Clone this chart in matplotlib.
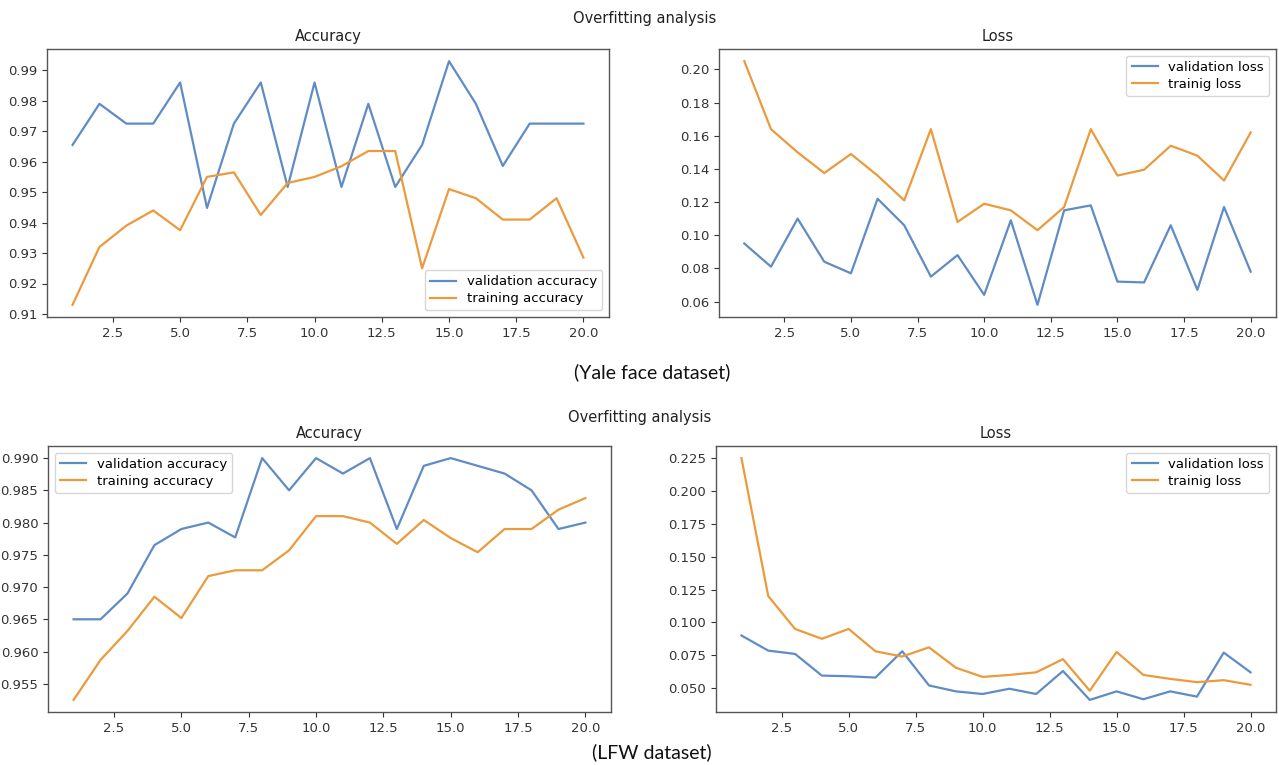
import matplotlib
matplotlib.use("Agg")
import matplotlib.pyplot as plt

epochs = list(range(1, 21))

yale_val_acc = [0.9655, 0.979, 0.9725, 0.9725, 0.986, 0.9448, 0.9725, 0.986, 0.9517, 0.986,
                0.9517, 0.979, 0.9517, 0.9655, 0.993, 0.979, 0.9586, 0.9725, 0.9725, 0.9725]
yale_train_acc = [0.913, 0.932, 0.939, 0.944, 0.9375, 0.955, 0.9565, 0.9425, 0.953, 0.955,
                  0.9585, 0.9635, 0.9635, 0.925, 0.951, 0.948, 0.941, 0.941, 0.948, 0.9285]
yale_val_loss = [0.095, 0.081, 0.110, 0.084, 0.077, 0.122, 0.106, 0.075, 0.088, 0.064,
                 0.109, 0.058, 0.115, 0.118, 0.072, 0.0715, 0.106, 0.067, 0.117, 0.078]
yale_train_loss = [0.205, 0.164, 0.150, 0.1375, 0.149, 0.136, 0.121, 0.164, 0.108, 0.119,
                   0.115, 0.103, 0.117, 0.164, 0.136, 0.1395, 0.154, 0.148, 0.133, 0.162]

lfw_val_acc = [0.965, 0.965, 0.969, 0.9765, 0.979, 0.980, 0.9777, 0.990, 0.985, 0.990,
               0.9876, 0.990, 0.979, 0.9888, 0.990, 0.9888, 0.9876, 0.985, 0.979, 0.980]
lfw_train_acc = [0.9525, 0.9587, 0.9632, 0.9685, 0.9652, 0.9717, 0.9726, 0.9726, 0.9757, 0.981,
                 0.981, 0.980, 0.9767, 0.9804, 0.9776, 0.9754, 0.979, 0.979, 0.982, 0.9838]
lfw_val_loss = [0.090, 0.0785, 0.076, 0.0595, 0.059, 0.058, 0.078, 0.052, 0.0475, 0.0455,
                0.0495, 0.0455, 0.063, 0.041, 0.0475, 0.0415, 0.0475, 0.0435, 0.077, 0.062]
lfw_train_loss = [0.225, 0.120, 0.095, 0.0875, 0.095, 0.078, 0.074, 0.081, 0.0655, 0.0585,
                  0.060, 0.062, 0.072, 0.048, 0.0775, 0.060, 0.057, 0.0545, 0.056, 0.0525]

BLUE = "#5f8cc4"
ORANGE = "#eb9a3c"
W, H = 1279, 765

fig = plt.figure(figsize=(W / 100, H / 100), dpi=100)


def add_ax(left, top, right, bottom):
    return fig.add_axes([left / W, 1 - bottom / H, (right - left) / W, (bottom - top) / H])


def style(ax, title):
    ax.set_title(title, fontsize=10.5, color="#222222", pad=5.5)
    ax.tick_params(labelsize=9.5, colors="#333333", length=3.5)
    for s in ax.spines.values():
        s.set_color("#555555")
        s.set_linewidth(1.0)


panels = [
    ((47, 49, 609, 317), "Accuracy", yale_val_acc, yale_train_acc,
     "validation accuracy", "training accuracy", "lower right"),
    ((719, 49, 1276, 317), "Loss", yale_val_loss, yale_train_loss,
     "validation loss", "trainig loss", "upper right"),
    ((48, 446, 611, 712), "Accuracy", lfw_val_acc, lfw_train_acc,
     "validation accuracy", "training accuracy", "upper left"),
    ((716, 446, 1276, 712), "Loss", lfw_val_loss, lfw_train_loss,
     "validation loss", "trainig loss", "upper right"),
]

for box, title, v, t, lv, lt, loc in panels:
    ax = add_ax(*box)
    ax.plot(epochs, v, color=BLUE, lw=1.6, label=lv)
    ax.plot(epochs, t, color=ORANGE, lw=1.6, label=lt)
    style(ax, title)
    ax.legend(loc=loc, fontsize=9.5, frameon=True, handlelength=2.0,
              borderpad=0.4, labelspacing=0.3)

fig.text(645 / W, 1 - 19 / H, "Overfitting analysis", ha="center", va="center",
         fontsize=10.5, color="#222222")
fig.text(640 / W, 1 - 418 / H, "Overfitting analysis", ha="center", va="center",
         fontsize=10.5, color="#222222")
fig.text(652 / W, 1 - 372 / H, "(Yale face dataset)", ha="center", va="center",
         fontsize=14, family="Lato", color="#111111")
fig.text(652 / W, 1 - 752 / H, "(LFW dataset)", ha="center", va="center",
         fontsize=14, family="Lato", color="#111111")

fig.savefig("out.png", dpi=100)
